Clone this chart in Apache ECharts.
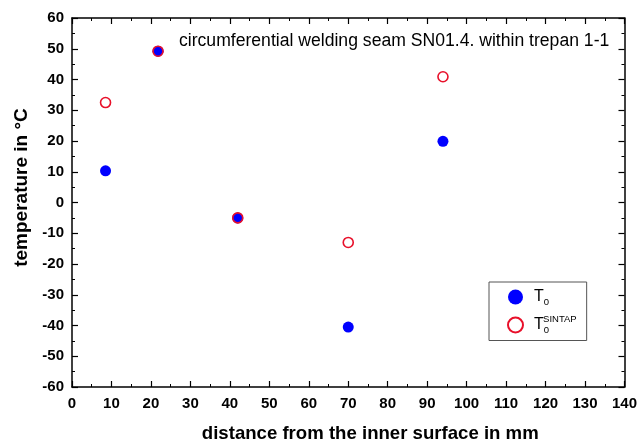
<!DOCTYPE html>
<html><head><meta charset="utf-8">
<script src="https://cdn.jsdelivr.net/npm/echarts@6/dist/echarts.min.js"></script>
<style>html,body{margin:0;padding:0;background:#fff}#c{width:640px;height:448px}</style>
</head><body><div id="c"></div>
<script>
var distance = [8.5, 21.8, 42, 70, 94];
var T0 = [10.3, 49.2, -5, -40.5, 19.9];
var T0sintap = [32.5, 49.2, -5, -13, 40.9];
var titleText = 'circumferential welding seam SN01.4. within trepan 1-1';
var xName = 'distance from the inner surface in mm';
var yName = 'temperature in °C';

function pairs(xs, ys){ return xs.map(function(x,i){ return [x, ys[i]]; }); }

var FF = 'Liberation Sans, Arial, sans-serif';
var chart = echarts.init(document.getElementById('c'), null, {renderer:'canvas'});
var axisLineStyle = {color:'#000', width:1.5};
var labelFont = {color:'#000', fontWeight:'bold', fontSize:15, fontFamily:FF};
function mkAxis(extra){
  return Object.assign({
    type:'value',
    axisLine:{onZero:false, lineStyle:axisLineStyle},
    axisTick:{inside:true, length:6, lineStyle:{color:'#000', width:1.2}},
    minorTick:{show:true, splitNumber:2, length:3, lineStyle:{color:'#000', width:1}},
    splitLine:{show:false}
  }, extra);
}
chart.setOption({
  animation:false,
  backgroundColor:'#fff',
  title:{text:titleText, left:174, top:27, textStyle:{fontSize:17.6, fontWeight:'normal', color:'#000', fontFamily:FF}},
  grid:{left:72, right:13, top:18, bottom:58},
  legend:{
    orient:'vertical', left:489, top:282, width:99, height:57,
    padding:[7,10,5,18], itemGap:7,
    borderColor:'#555', borderWidth:1, backgroundColor:'#fff',
    itemWidth:15, itemHeight:15,
    data:[{name:'T0', icon:'circle'},{name:'T0S', icon:'circle'}],
    formatter:function(n){ return n==='T0' ? '{m|T}{s|0}' : '{m|T}{s|0}{p|SINTAP}'; },
    textStyle:{rich:{
      m:{fontSize:16, color:'#000', fontFamily:FF, padding:[0,0,0,6]},
      s:{fontSize:9.5, color:'#000', verticalAlign:'bottom', padding:[11,0,0,0], fontFamily:FF},
      p:{fontSize:9.5, color:'#000', verticalAlign:'top', padding:[0,0,11,-6], fontFamily:FF}
    }}
  },
  xAxis:[mkAxis({
    min:0, max:140, interval:10, position:'bottom',
    name:xName, nameLocation:'middle', nameGap:37,
    nameTextStyle:{fontSize:18.6, fontWeight:'bold', color:'#000', fontFamily:FF, padding:[0,0,0,44]},
    axisLabel:Object.assign({margin:9}, labelFont)
  }), mkAxis({
    min:0, max:140, interval:10, position:'top', axisLabel:{show:false}
  })],
  yAxis:[mkAxis({
    min:-60, max:60, interval:10, position:'left',
    name:yName, nameLocation:'middle', nameGap:36,
    nameTextStyle:{fontSize:19, fontWeight:'bold', color:'#000', fontFamily:FF, padding:[0,0,0,30]},
    axisLabel:Object.assign({margin:8}, labelFont)
  }), mkAxis({
    min:-60, max:60, interval:10, position:'right', axisLabel:{show:false}
  })],
  series:[{
    name:'T0', type:'scatter', symbol:'circle', symbolSize:11,
    itemStyle:{color:'#0000ff', opacity:1},
    data:pairs(distance, T0), z:2
  },{
    name:'T0S', type:'scatter', symbol:'circle', symbolSize:10,
    itemStyle:{color:'rgba(255,255,255,0)', borderColor:'#e8102a', borderWidth:1.6, opacity:1},
    data:pairs(distance, T0sintap), z:3
  }]
});
</script></body></html>
